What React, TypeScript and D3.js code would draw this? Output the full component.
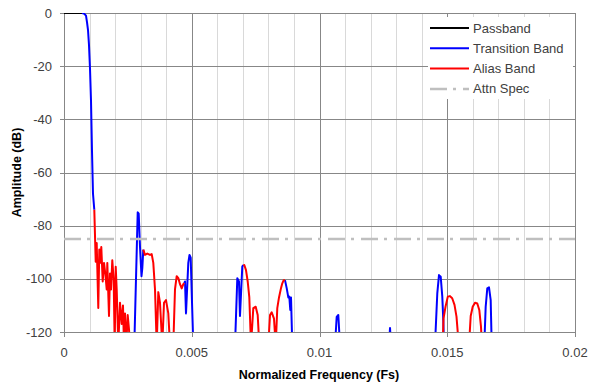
import React from "react";
import * as d3 from "d3";

type Pt = [number, number] | null;

const yTicks = [0, -20, -40, -60, -80, -100, -120];
const xTicks = [0, 0.005, 0.01, 0.015, 0.02];
const xTickLabels = ["0", "0.005", "0.01", "0.015", "0.02"];
const minorX = d3.range(1, 20).filter((i) => i % 5 !== 0).map((i) => i * 0.001);

const attnSpecDb = -85;

const passband: Pt[] = [
  [0, 0],
  [0.000705, 0],
];

const transitionBand: Pt[] = [
  [0.000705, 0], [0.000783, -0.2], [0.000861, -1], [0.0009, -3.4], [0.00094, -6.4],
  [0.000978, -12], [0.001018, -21], [0.001057, -33], [0.001096, -52], [0.001135, -68], [0.001186, -74],
  null,
  [0.002752, -125], [0.002818, -100], [0.002885, -75], [0.002924, -75.5], [0.002975, -88],
  [0.003033, -99], [0.003065, -96], [0.003104, -89],
  null,
  [0.004709, -101.6], [0.004736, -101], [0.004775, -113], [0.004865, -94], [0.004912, -91],
  [0.004959, -92], [0.004998, -105], [0.005061, -125],
  null,
  [0.006693, -125], [0.006783, -99.8], [0.006849, -101], [0.006888, -114], [0.006978, -95.4], [0.007018, -94.8],
  null,
  [0.008649, -100.5], [0.008716, -103.5], [0.008779, -107], [0.008818, -106.7], [0.008857, -111.7],
  [0.008885, -107], [0.008935, -125],
  null,
  [0.010607, -125], [0.010673, -114.3], [0.010736, -113.6], [0.010802, -125],
  null,
  [0.01272, -125], [0.01276, -118.5], [0.0128, -125],
  null,
  [0.01452, -125], [0.01461, -105.5], [0.014677, -98.6], [0.014744, -99.2], [0.014806, -106.7],
  [0.014845, -115.5], [0.014873, -125],
  null,
  [0.016449, -125], [0.016504, -110.5], [0.016567, -103.6], [0.016634, -103.2], [0.0167, -108], [0.01674, -125],
];

const aliasBand: Pt[] = [
  [0.001186, -74], [0.001241, -93.6], [0.00128, -86.5], [0.001342, -111], [0.001382, -89], [0.001409, -94],
  [0.00146, -88], [0.001515, -101], [0.001566, -94], [0.001616, -98], [0.001671, -104], [0.001695, -94],
  [0.001761, -114], [0.0018, -98], [0.00184, -104], [0.00189, -93], [0.001945, -100.5], [0.001984, -125],
  [0.002024, -95.5], [0.002063, -104], [0.002125, -125], [0.002192, -109], [0.002258, -117], [0.002309, -110],
  [0.002348, -125], [0.002387, -113], [0.002438, -125], [0.002493, -113.6], [0.002544, -119], [0.002583, -125],
  null,
  [0.003104, -89], [0.00317, -91], [0.00326, -90.5], [0.003366, -91], [0.003432, -90.7], [0.003495, -94],
  [0.003562, -104], [0.003628, -125], [0.003691, -105], [0.003757, -109], [0.003847, -125], [0.003914, -109],
  [0.003992, -108], [0.004082, -113], [0.004149, -125], [0.004278, -125], [0.004344, -104], [0.004411, -99],
  [0.004474, -99.7], [0.00454, -102], [0.004607, -103.6], [0.004669, -102], [0.004709, -101.6],
  null,
  [0.007018, -94.8], [0.007057, -94.8], [0.007123, -96.7], [0.00719, -101], [0.007253, -107], [0.007319, -125],
  [0.007409, -111], [0.007503, -110.5], [0.007581, -113.6], [0.007644, -125],
  null,
  [0.007996, -125], [0.008063, -113.6], [0.008129, -112.6], [0.008219, -115], [0.008286, -125], [0.008348, -111],
  [0.008415, -107], [0.008493, -103.5], [0.008544, -101.7], [0.008599, -100.5], [0.008649, -100.5],
  null,
  [0.014822, -125], [0.014853, -115], [0.014932, -110.5], [0.015022, -106.7], [0.0151, -106.5],
  [0.015194, -107.3], [0.015284, -109.8], [0.015362, -114.2], [0.015452, -125],
  null,
  [0.015851, -125], [0.015918, -114], [0.015996, -110.5], [0.016086, -109], [0.016176, -109.3],
  [0.016254, -111.7], [0.01632, -118], [0.01636, -125],
];

const legendItems = [
  { label: "Passband", color: "#000000", dash: "" },
  { label: "Transition Band", color: "#0000ff", dash: "" },
  { label: "Alias Band", color: "#ff0000", dash: "" },
  { label: "Attn Spec", color: "#bfbfbf", dash: "17,6,3,7" },
];

export default function App() {
  const W = 589;
  const H = 387;
  const left = 64;
  const right = 575;
  const top = 13;
  const bottom = 332;
  const x = d3.scaleLinear().domain([0, 0.02]).range([left, right]);
  const y = d3.scaleLinear().domain([-120, 0]).range([bottom, top]);
  const line = d3
    .line<Pt>()
    .defined((d) => d !== null)
    .x((d) => x((d as [number, number])[0]))
    .y((d) => y((d as [number, number])[1]));
  const px = (v: number) => Math.round(v) + 0.5;
  const font = "'Liberation Sans', Arial, sans-serif";
  const textColor = "#404040";
  const major = "#878787";
  const minor = "#d9d9d9";

  return (
    <svg width={W} height={H} style={{ position: "absolute", left: 0, top: 0, background: "#fff" }} fontFamily={font}>
      <defs>
        <clipPath id="plotClip">
          <rect x={left} y={top} width={right - left} height={bottom - top} />
        </clipPath>
      </defs>
      {minorX.map((v) => (
        <line key={"mx" + v} x1={px(x(v))} x2={px(x(v))} y1={top} y2={bottom} stroke={minor} strokeWidth={1} />
      ))}
      {xTicks.map((v) => (
        <line key={"Mx" + v} x1={px(x(v))} x2={px(x(v))} y1={top} y2={bottom + 5} stroke={major} strokeWidth={1} />
      ))}
      {yTicks.map((v) => (
        <line key={"My" + v} x1={left - 4} x2={right} y1={px(y(v))} y2={px(y(v))} stroke={major} strokeWidth={1} />
      ))}
      <g clipPath="url(#plotClip)" fill="none" strokeWidth={2} strokeLinejoin="round">
        <path d={line(passband) ?? ""} stroke="#000000" />
        <path d={line(transitionBand) ?? ""} stroke="#0000ff" />
        <path d={line(aliasBand) ?? ""} stroke="#ff0000" />
        <line
          x1={x(0)}
          x2={x(0.02)}
          y1={y(attnSpecDb)}
          y2={y(attnSpecDb)}
          stroke="#bfbfbf"
          strokeWidth={2.5}
          strokeDasharray="17,6,3,7"
        />
      </g>
      {yTicks.map((v) => (
        <text key={"yl" + v} x={52} y={y(v)} dy="0.35em" textAnchor="end" fontSize={13} fill={textColor}>
          {v}
        </text>
      ))}
      {xTicks.map((v, i) => (
        <text key={"xl" + v} x={x(v)} y={357} textAnchor="middle" fontSize={13} fill={textColor}>
          {xTickLabels[i]}
        </text>
      ))}
      <text x={319} y={379} textAnchor="middle" fontSize={12.5} fontWeight="bold" fill="#000">
        Normalized Frequency (Fs)
      </text>
      <text
        transform={`translate(21,${(top + bottom) / 2}) rotate(-90)`}
        textAnchor="middle"
        fontSize={12.5}
        fontWeight="bold"
        fill="#000"
      >
        Amplitude (dB)
      </text>
      <g>
        <rect x={428} y={17} width={145} height={82} fill="#ffffff" />
        {legendItems.map((it, i) => {
          const cy = 28 + i * 20.3;
          return (
            <g key={it.label}>
              <line
                x1={430}
                x2={469}
                y1={cy}
                y2={cy}
                stroke={it.color}
                strokeWidth={it.dash ? 2.5 : 2}
                strokeDasharray={it.dash || undefined}
              />
              <text x={473} y={cy} dy="0.35em" fontSize={13} fill={textColor}>
                {it.label}
              </text>
            </g>
          );
        })}
      </g>
    </svg>
  );
}
